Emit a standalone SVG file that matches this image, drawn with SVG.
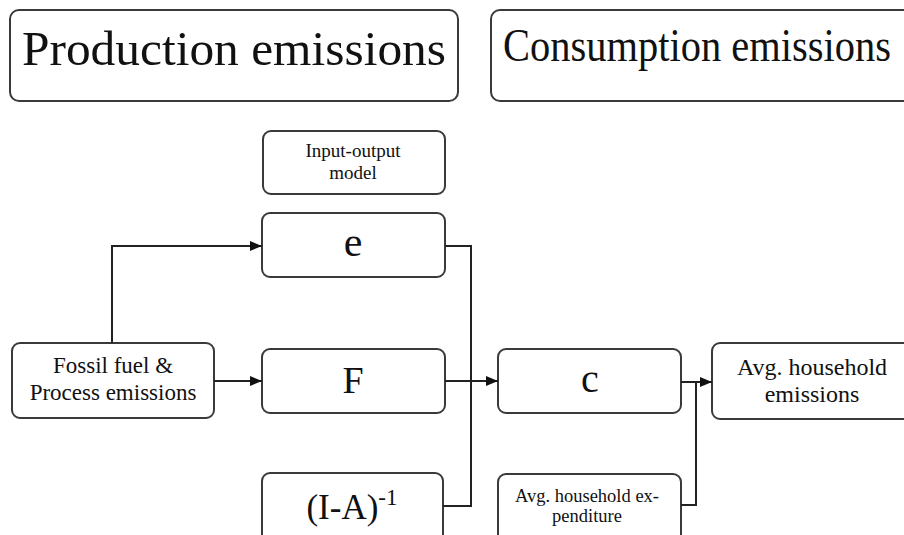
<svg xmlns="http://www.w3.org/2000/svg" width="904" height="535" viewBox="0 0 904 535">
<defs>
<style>
.box{fill:#fff;stroke:#3a3a3a;stroke-width:2}
.t{fill:#111;text-anchor:middle}
.ln{fill:none;stroke:#222;stroke-width:2}
</style>
<marker id="ah" markerWidth="12" markerHeight="10" refX="12" refY="5" orient="auto" markerUnits="userSpaceOnUse">
<path d="M0,0 L12,5 L0,10 Z" fill="#111"/>
</marker>
</defs>
<rect width="904" height="535" fill="#fff"/>
<g font-family="Liberation Serif, Times New Roman, serif">
<g id="production">
<rect class="box" x="10" y="10" width="448" height="91" rx="9"/>
<text class="t" x="234" y="65" font-size="49" textLength="424" lengthAdjust="spacingAndGlyphs">Production emissions</text>
</g>
<g id="consumption">
<rect class="box" x="491" y="10" width="430" height="91" rx="9"/>
<text class="t" x="697" y="61" font-size="46" textLength="388" lengthAdjust="spacingAndGlyphs">Consumption emissions</text>
</g>
<g id="io-model">
<rect class="box" x="263" y="131" width="182" height="63" rx="8"/>
<text class="t" x="353" y="157" font-size="19">Input-output</text>
<text class="t" x="353" y="179" font-size="19">model</text>
</g>
<g id="e">
<rect class="box" x="262" y="213" width="183" height="64" rx="8"/>
<text class="t" x="353" y="256" font-size="42">e</text>
</g>
<g id="fossil">
<rect class="box" x="12" y="343" width="202" height="75" rx="8"/>
<text class="t" x="113" y="373" font-size="23">Fossil fuel &amp;</text>
<text class="t" x="113" y="400" font-size="23">Process emissions</text>
</g>
<g id="F">
<rect class="box" x="262" y="349" width="183" height="64" rx="8"/>
<text class="t" x="353" y="393" font-size="38">F</text>
</g>
<g id="IA">
<rect class="box" x="262" y="473" width="181" height="75" rx="8"/>
<text class="t" x="352" y="519" font-size="35"><tspan>(I-A)</tspan><tspan font-size="23" dy="-14">-1</tspan></text>
</g>
<g id="c">
<rect class="box" x="498" y="349" width="183" height="64" rx="8"/>
<text class="t" x="590" y="392" font-size="40">c</text>
</g>
<g id="expenditure">
<rect class="box" x="498" y="474" width="183" height="75" rx="8"/>
<text class="t" x="587" y="502" font-size="18.5">Avg. household ex-</text>
<text class="t" x="587" y="522" font-size="18.5">penditure</text>
</g>
<g id="household">
<rect class="box" x="712" y="343" width="210" height="76" rx="8"/>
<text class="t" x="812" y="375" font-size="24">Avg. household</text>
<text class="t" x="812" y="402" font-size="24">emissions</text>
</g>
</g>
<g id="connectors">
<path class="ln" d="M112 343 V246 H262" marker-end="url(#ah)"/>
<path class="ln" d="M214 381 H262" marker-end="url(#ah)"/>
<path class="ln" d="M445 246 H471 V506 H443"/>
<path class="ln" d="M445 381 H498" marker-end="url(#ah)"/>
<path class="ln" d="M681 382 H712" marker-end="url(#ah)"/>
<path class="ln" d="M681 505 H696 V382"/>
</g>
</svg>
